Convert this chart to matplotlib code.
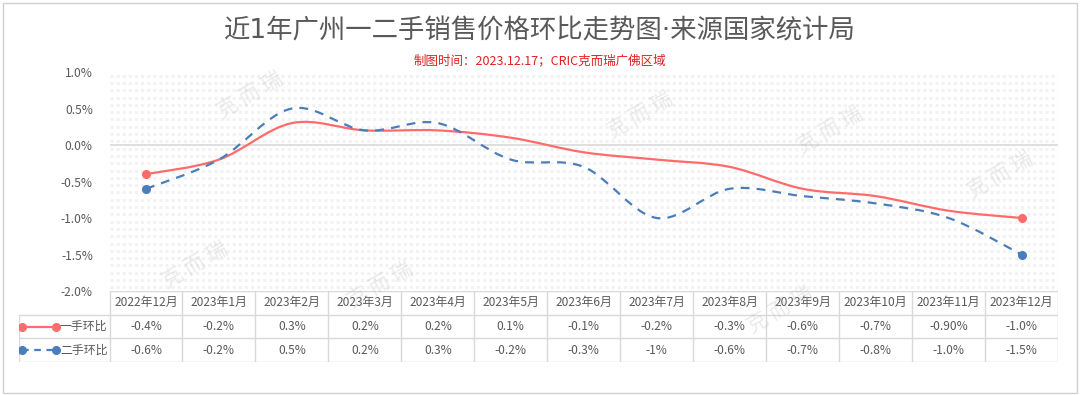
import numpy as np
import matplotlib.pyplot as plt
from matplotlib.path import Path
from matplotlib.patches import PathPatch, Rectangle
from matplotlib.lines import Line2D

plt.rcParams['font.family'] = ['Noto Sans CJK SC', 'DejaVu Sans']

# Data
months = ['2022年12月', '2023年1月', '2023年2月', '2023年3月', '2023年4月',
          '2023年5月', '2023年6月', '2023年7月', '2023年8月', '2023年9月',
          '2023年10月', '2023年11月', '2023年12月']
new_home = [-0.4, -0.2, 0.3, 0.2, 0.2, 0.1, -0.1, -0.2, -0.3, -0.6, -0.7, -0.9, -1.0]
resale = [-0.6, -0.2, 0.5, 0.2, 0.3, -0.2, -0.3, -1.0, -0.6, -0.7, -0.8, -1.0, -1.5]
new_labels = ['-0.4%', '-0.2%', '0.3%', '0.2%', '0.2%', '0.1%', '-0.1%', '-0.2%',
              '-0.3%', '-0.6%', '-0.7%', '-0.90%', '-1.0%']
resale_labels = ['-0.6%', '-0.2%', '0.5%', '0.2%', '0.3%', '-0.2%', '-0.3%', '-1%',
                 '-0.6%', '-0.7%', '-0.8%', '-1.0%', '-1.5%']
series_names = ['一手环比', '二手环比']

RED = '#FF6B6B'
BLUE = '#4A7EBB'
GREY = '#595959'
LINE = '#d9d9d9'
FS = 8.6

W, H = 1080, 395
fig = plt.figure(figsize=(W / 100, H / 100), dpi=100)


def px(x0, y0, x1, y1):
    # pixel box (top-left origin) -> figure fraction rect
    return [x0 / W, 1 - y1 / H, (x1 - x0) / W, (y1 - y0) / H]


# outer border
fig.patches.append(Rectangle((3 / W, 2 / H), (W - 6) / W, (H - 5) / H,
                             transform=fig.transFigure, fill=False,
                             edgecolor='#d0d0d0', lw=1))

fig.text(0.5, 1 - 31 / H, '近1年广州一二手销售价格环比走势图·来源国家统计局',
         ha='center', va='center', fontsize=19, color=GREY,
         family=['DejaVu Sans', 'Noto Sans CJK SC'])
fig.text(0.5, 1 - 61 / H, '制图时间：2023.12.17；CRIC克而瑞广佛区域',
         ha='center', va='center', fontsize=9, color='#E02020')

ax = fig.add_axes(px(109.5, 72, 1058, 291))
x = np.arange(len(months))
ax.set_xlim(-0.5, len(months) - 0.5)
ax.set_ylim(-2.0, 1.0)
for s in ax.spines.values():
    s.set_visible(False)
ax.set_xticks([])
ax.set_yticks(np.arange(-2.0, 1.01, 0.5))
ax.set_yticklabels(['%.1f%%' % v for v in np.arange(-2.0, 1.01, 0.5)],
                   fontsize=FS, color=GREY)
ax.tick_params(axis='y', length=0, pad=12)

# striped background
for yy in np.arange(-1.95, 1.0, 0.1):
    ax.axhline(yy, color='#f2f2f2', lw=2.2, ls=(0, (1, 1)), zorder=0)
ax.axhline(0, color=LINE, lw=1.2, zorder=1)

# watermarks
for wx, wy in [(250, 95), (640, 115), (830, 130), (195, 265), (380, 285),
               (780, 310), (1000, 175)]:
    fig.text(wx / W, 1 - wy / H, '克 而 瑞', fontsize=15, color='#b0b0b0',
             alpha=0.25, rotation=30, ha='center', va='center')


def smooth_path(xs, ys):
    pts = np.column_stack([xs, ys])
    n = len(pts)
    verts = [pts[0]]
    codes = [Path.MOVETO]
    for i in range(n - 1):
        p0 = pts[i - 1] if i > 0 else pts[i]
        p1 = pts[i]
        p2 = pts[i + 1]
        p3 = pts[i + 2] if i + 2 < n else pts[i + 1]
        verts += [p1 + (p2 - p0) / 6, p2 - (p3 - p1) / 6, p2]
        codes += [Path.CURVE4] * 3
    return Path(verts, codes)


for ys, col, ls in [(new_home, RED, '-'), (resale, BLUE, (0, (4, 3.2)))]:
    ax.add_patch(PathPatch(smooth_path(x, ys), fill=False, edgecolor=col,
                           lw=1.6, ls=ls, zorder=3, capstyle='butt'))
    ax.plot([x[0], x[-1]], [ys[0], ys[-1]], 'o', color=col, ms=5.5, zorder=4)

# data table
tab = fig.add_axes(px(19, 291, 1058, 362))
col_w = (1058 - 109.5) / len(months)
left = -(109.5 - 19) / col_w - 0.5
tab.set_xlim(left, len(months) - 0.5)
tab.set_ylim(3, 0)
tab.axis('off')
# header frame starts at first month column
tab.plot([-0.5, len(months) - 0.5], [0, 0], color=LINE, lw=1)
tab.plot([left, len(months) - 0.5], [1, 1], color=LINE, lw=1)
tab.plot([left, len(months) - 0.5], [2, 2], color=LINE, lw=1)
tab.plot([left, len(months) - 0.5], [3, 3], color=LINE, lw=1)
tab.plot([left, left], [1, 3], color=LINE, lw=1)
for i in range(len(months) + 1):
    tab.plot([i - 0.5, i - 0.5], [0, 3], color=LINE, lw=1)
for i, m in enumerate(months):
    tab.text(i, 0.5, m, ha='center', va='center', fontsize=FS, color=GREY)
    tab.text(i, 1.5, new_labels[i], ha='center', va='center', fontsize=FS, color=GREY)
    tab.text(i, 2.5, resale_labels[i], ha='center', va='center', fontsize=FS, color=GREY)

# legend keys in table
for row, col, ls, name in [(1.5, RED, '-', series_names[0]),
                           (2.5, BLUE, (0, (3, 2.5)), series_names[1])]:
    x0 = left + 3 / col_w
    x1 = left + 37 / col_w
    tab.add_line(Line2D([x0, x1], [row, row], color=col, lw=1.6, ls=ls,
                        marker='o', ms=5.5))
    tab.text(-0.5 - 2 / col_w, row, name, ha='right', va='center',
             fontsize=FS, color=GREY)

fig.savefig('out.png', dpi=100)
